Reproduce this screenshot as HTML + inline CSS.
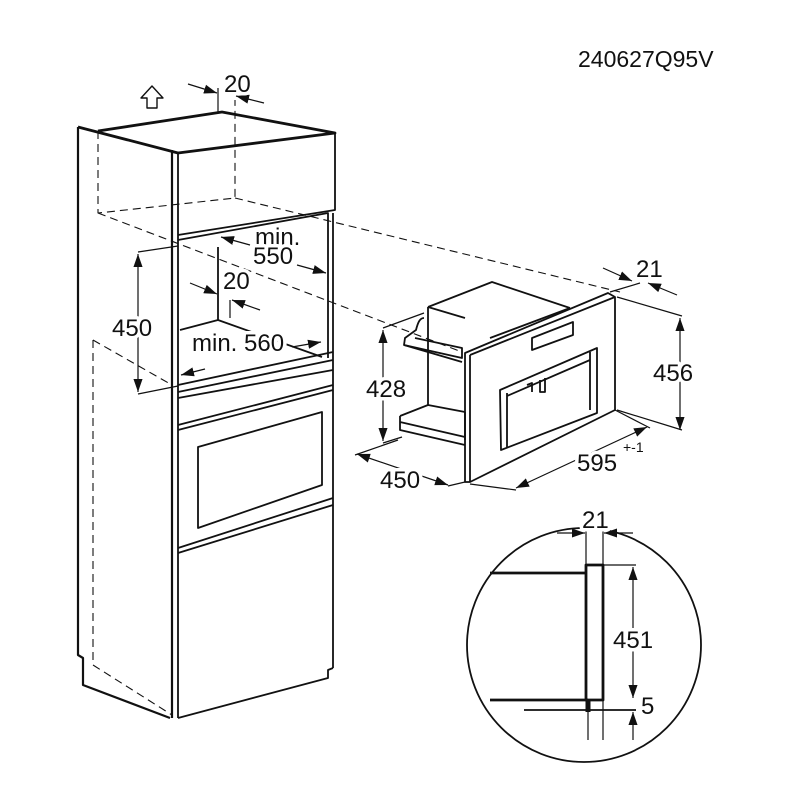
<!DOCTYPE html>
<html><head><meta charset="utf-8"><style>html,body{margin:0;padding:0;background:#fff}svg{display:block}text{font-family:"Liberation Sans",Arial,sans-serif;fill:#111}.t text{stroke:#fff;stroke-width:7;paint-order:stroke;stroke-linejoin:round}</style></head><body>
<svg width="800" height="800" viewBox="0 0 800 800" xmlns="http://www.w3.org/2000/svg">
<defs><marker id="a" viewBox="0 0 10 10" refX="10" refY="5" markerWidth="13" markerHeight="13" orient="auto-start-reverse" markerUnits="userSpaceOnUse"><path d="M0,1.5 L10,5 L0,8.5 Z" fill="#111"/></marker></defs>
<text x="578" y="67" font-size="23">240627Q95V</text>
<g fill="none" stroke="#111" stroke-width="1.8" stroke-linejoin="round">
<path d="M78,127 L78,655 L83,658 L83,685 L170,718" stroke-width="2.2"/>
<path d="M78,127 L178,153 L335,133 L222,112 L98,131" stroke-width="2.8"/>
<line x1="172" y1="150" x2="172" y2="718" stroke-width="2.2"/>
<line x1="178" y1="153" x2="178" y2="718"/>
<path d="M335,133 L335,210 L178,235"/>
<path d="M178,240 L328,213 L328,358"/>
<line x1="333" y1="213" x2="333" y2="668"/>
<line x1="218" y1="247" x2="218" y2="320"/>
<path d="M180,330 L218,320 L322,357"/>
<path d="M178,385 L333,352 M178,392 L333,360"/>
<path d="M178,398 L333,370 M178,425 L333,385 M178,430 L333,390"/>
<path d="M178,548 L333,498 M178,553 L333,505"/>
<path d="M198,447 L322,412 L322,485 L198,528 Z"/>
<path d="M333,668 L328,670 L328,678 L178,718"/>
<g stroke-dasharray="8,5" stroke-width="1.1">
<path d="M98,131 L98,213 L235,198 L235,100"/>
<path d="M235,198 L620,292"/>
<path d="M98,213 L462,352"/>
<path d="M93,340 L93,665 L172,715"/>
<path d="M93,340 L172,385"/>
</g>
<path d="M152,86 L163,98 L157,98 L157,108 L147,108 L147,98 L141,98 Z" stroke-width="1.4"/>
<g stroke-width="1.2">
<line x1="218" y1="88" x2="218" y2="112"/>
<line x1="188" y1="84" x2="217" y2="93" marker-end="url(#a)"/>
<line x1="264" y1="103" x2="236" y2="96" marker-end="url(#a)"/>
<line x1="138" y1="254" x2="138" y2="392" marker-start="url(#a)" marker-end="url(#a)"/>
<line x1="138" y1="252" x2="178" y2="246"/><line x1="138" y1="394" x2="178" y2="386"/>
<line x1="250" y1="245" x2="221" y2="237" marker-end="url(#a)"/>
<line x1="297" y1="265" x2="326" y2="273" marker-end="url(#a)"/>
<line x1="190" y1="283" x2="217" y2="294" marker-end="url(#a)"/>
<line x1="260" y1="310" x2="232" y2="300" marker-end="url(#a)"/>
<line x1="230" y1="300" x2="230" y2="318"/>
<line x1="205" y1="369" x2="181" y2="375" marker-end="url(#a)"/>
<line x1="292" y1="347" x2="321" y2="342" marker-end="url(#a)"/>
</g>
<path d="M465,353 L608,293 L615,297 L615,410 L470,482 L465,482 Z"/>
<path d="M470,355 L615,297 M470,355 L470,482"/>
<path d="M532,338 L573,322 L573,335 L532,350 Z"/>
<path d="M500,390 L597,348 L597,413 L501,450 Z"/>
<path d="M507,393 L507,448 M590,352 L590,410 M507,396 L590,360"/>
<path d="M527,385 L532,383 L532,392 M540,380 L540,392 L545,392 L545,378"/>
<path d="M428,307 L492,282 L570,308 M428,307 L428,405 M428,307 L465,318 M490,338 L570,308"/>
<path d="M424,318 C420,318 418,322 416,330 L405,338 L404,345 L462,358 L462,348 L415,338"/>
<path d="M404,345 L462,362"/>
<path d="M400,416 L428,405 L465,412 M400,416 L400,430 L465,445 M400,422 L465,437 M465,412 L465,440"/>
<g stroke-width="1.2">
<line x1="383" y1="330" x2="383" y2="441" marker-start="url(#a)" marker-end="url(#a)"/>
<line x1="383" y1="328" x2="424" y2="313"/><line x1="383" y1="443" x2="402" y2="437"/>
<line x1="357" y1="454" x2="448" y2="485" marker-start="url(#a)" marker-end="url(#a)"/>
<line x1="355" y1="455" x2="398" y2="440"/><line x1="448" y1="486" x2="465" y2="482"/>
<line x1="516" y1="488" x2="647" y2="427" marker-start="url(#a)" marker-end="url(#a)"/>
<line x1="470" y1="484" x2="516" y2="490"/><line x1="615" y1="410" x2="650" y2="428"/>
<line x1="680" y1="318" x2="680" y2="430" marker-start="url(#a)" marker-end="url(#a)"/>
<line x1="617" y1="297" x2="682" y2="316"/><line x1="617" y1="410" x2="682" y2="430"/>
<line x1="603" y1="268" x2="632" y2="281" marker-end="url(#a)"/>
<line x1="677" y1="295" x2="648" y2="283" marker-end="url(#a)"/>
<line x1="610" y1="292" x2="640" y2="283"/>
</g>
<circle cx="584" cy="645" r="117"/>
<rect x="586" y="565" width="17" height="135" stroke-width="2.8"/>
<line x1="490" y1="573" x2="585" y2="573" stroke-width="2.8"/>
<line x1="490" y1="700" x2="588" y2="700" stroke-width="2.8"/>
<line x1="524" y1="710" x2="636" y2="710"/>
<line x1="588" y1="700" x2="588" y2="712" stroke-width="5"/>
<g stroke-width="1.2">
<line x1="586" y1="530" x2="586" y2="565"/><line x1="603" y1="530" x2="603" y2="565"/>
<line x1="588" y1="712" x2="588" y2="740"/><line x1="603" y1="700" x2="603" y2="740"/>
<line x1="557" y1="533" x2="585" y2="533" marker-end="url(#a)"/>
<line x1="633" y1="533" x2="604" y2="533" marker-end="url(#a)"/>
<line x1="603" y1="565" x2="636" y2="565"/>
<line x1="633" y1="567" x2="633" y2="698" marker-start="url(#a)" marker-end="url(#a)"/>
<line x1="633" y1="740" x2="633" y2="712" marker-end="url(#a)"/>
</g>
</g>
<g font-size="24" class="t">
<text x="224" y="92">20</text>
<text x="255" y="245">min.</text><text x="253" y="264">550</text>
<text x="223" y="289">20</text>
<text x="112" y="336">450</text>
<text x="192" y="351">min. 560</text>
<text x="366" y="397">428</text>
<text x="380" y="488">450</text>
<text x="577" y="471">595</text><text x="623" y="452" font-size="14">+-1</text>
<text x="653" y="381">456</text>
<text x="636" y="277">21</text>
<text x="582" y="528">21</text>
<text x="613" y="648">451</text>
<text x="641" y="714">5</text>
</g>
</svg>
</body></html>
